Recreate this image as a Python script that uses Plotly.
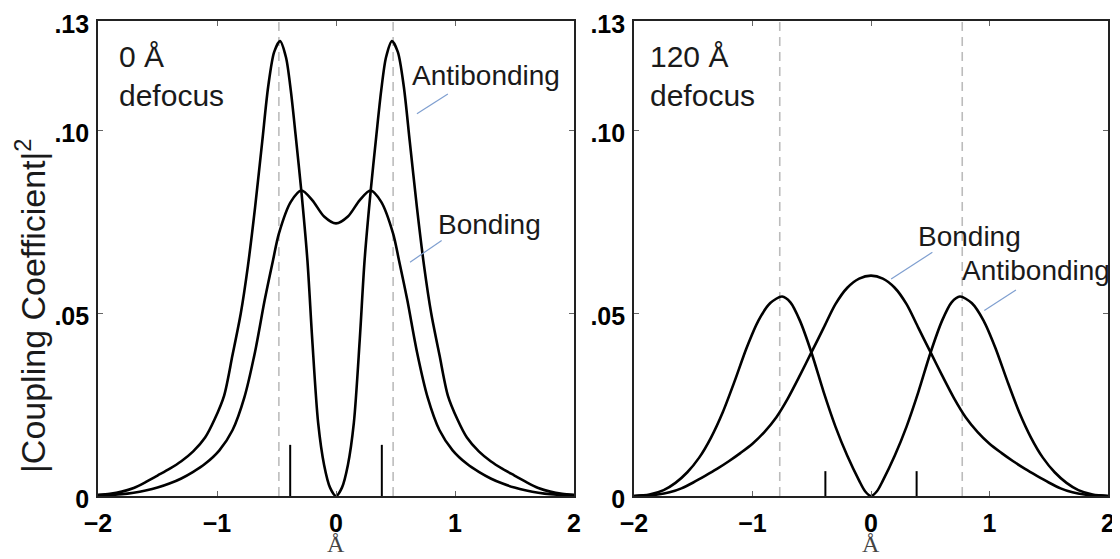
import plotly.graph_objects as go

# ---------------- data ----------------
# Left panel: 0 Å defocus
x_anti0 = [-2.0, -1.9, -1.8, -1.7, -1.6, -1.5, -1.4, -1.3, -1.2, -1.1, -1.02, -0.94, -0.87, -0.8, -0.74, -0.68,
           -0.62, -0.57, -0.52, -0.47, -0.42, -0.38, -0.34, -0.29, -0.24, -0.2, -0.15, -0.1, -0.05, 0.0,
           0.05, 0.1, 0.15, 0.2, 0.24, 0.29, 0.34, 0.38, 0.42, 0.47, 0.52, 0.57, 0.62, 0.68, 0.74, 0.8,
           0.87, 0.94, 1.02, 1.1, 1.2, 1.3, 1.4, 1.5, 1.6, 1.7, 1.8, 1.9, 2.0]
y_anti0 = [0.0003, 0.0006, 0.0012, 0.0022, 0.0038, 0.0056, 0.0074, 0.0095, 0.0122, 0.016, 0.021, 0.0275, 0.0385,
           0.050, 0.063, 0.079, 0.097, 0.112, 0.1215, 0.1245, 0.120, 0.111, 0.099, 0.083, 0.0644, 0.043, 0.020,
           0.0085, 0.0023, 0.0,
           0.0023, 0.0085, 0.020, 0.043, 0.0644, 0.083, 0.099, 0.111, 0.120, 0.1245, 0.1215, 0.112, 0.097,
           0.079, 0.063, 0.050, 0.0385, 0.0275, 0.021, 0.016, 0.0122, 0.0095, 0.0074, 0.0056, 0.0038, 0.0022,
           0.0012, 0.0006, 0.0003]

x_bond0 = [-2.0, -1.8, -1.7, -1.6, -1.5, -1.4, -1.3, -1.2, -1.1, -0.98, -0.87, -0.77, -0.68, -0.6, -0.53, -0.48,
           -0.38, -0.29, -0.2, -0.1, 0.0, 0.1, 0.2, 0.29, 0.38, 0.48, 0.53, 0.6, 0.68, 0.77, 0.87, 0.98, 1.1,
           1.2, 1.3, 1.4, 1.5, 1.6, 1.7, 1.8, 2.0]
y_bond0 = [0.0002, 0.0005, 0.0009, 0.0015, 0.0023, 0.0034, 0.0048, 0.0066, 0.0088, 0.0125, 0.018, 0.027, 0.0395,
           0.0535, 0.0644, 0.0718, 0.0805, 0.0836, 0.081, 0.0765, 0.0746, 0.0765, 0.081, 0.0836, 0.0805, 0.0718,
           0.0644, 0.0535, 0.0395, 0.027, 0.018, 0.0125, 0.0088, 0.0066, 0.0048, 0.0034, 0.0023, 0.0015,
           0.0009, 0.0005, 0.0002]

# Right panel: 120 Å defocus
x_anti120 = [-2.0, -1.87, -1.75, -1.65, -1.55, -1.45, -1.35, -1.25, -1.15, -1.05, -0.95, -0.85, -0.75, -0.68,
             -0.6, -0.5, -0.4, -0.3, -0.2, -0.1, -0.05, 0.0,
             0.05, 0.1, 0.2, 0.3, 0.4, 0.5, 0.6, 0.68, 0.75, 0.85, 0.95, 1.05, 1.15, 1.25, 1.35, 1.45, 1.55,
             1.65, 1.75, 1.87, 2.0]
y_anti120 = [0.0, 0.0004, 0.0016, 0.0036, 0.0065, 0.0105, 0.016, 0.023, 0.0315, 0.0405, 0.048, 0.0528, 0.0546,
             0.053, 0.048, 0.039, 0.0285, 0.019, 0.011, 0.0042, 0.0013, 0.0,
             0.0013, 0.0042, 0.011, 0.019, 0.0285, 0.039, 0.048, 0.053, 0.0546, 0.0528, 0.048, 0.0405, 0.0315,
             0.023, 0.016, 0.0105, 0.0065, 0.0036, 0.0016, 0.0004, 0.0]

x_bond120 = [-2.0, -1.8, -1.7, -1.6, -1.5, -1.4, -1.3, -1.2, -1.1, -1.0, -0.9, -0.8, -0.7, -0.6, -0.5, -0.4,
             -0.3, -0.2, -0.1, 0.0, 0.1, 0.2, 0.3, 0.4, 0.5, 0.6, 0.7, 0.8, 0.9, 1.0, 1.1, 1.2, 1.3, 1.4, 1.5,
             1.6, 1.7, 1.8, 2.0]
y_bond120 = [0.0, 0.0004, 0.001, 0.0021, 0.0037, 0.0055, 0.0074, 0.0095, 0.0118, 0.0143, 0.0175, 0.0215,
             0.0268, 0.033, 0.0395, 0.046, 0.0525, 0.057, 0.0595, 0.0603, 0.0595, 0.057, 0.0525, 0.046, 0.0395,
             0.033, 0.0268, 0.0215, 0.0175, 0.0143, 0.0118, 0.0095, 0.0074, 0.0055, 0.0037, 0.0021, 0.001,
             0.0004, 0.0]

# reference markers
dash_x0 = [-0.48, 0.48]
dash_x120 = [-0.77, 0.77]
stick_x = [-0.385, 0.385]
stick_h0 = 0.014
stick_h120 = 0.0068

x_ticks = [-2, -1, 0, 1, 2]
y_ticks = [0, 0.05, 0.10, 0.12999]
y_ticktext = ["0", ".05", ".10", ".13"]

# labels (text, x, y, leader x0, y0, x1, y1)
labels_left = [("Antibonding", 1.26, 0.115, 0.94, 0.110, 0.68, 0.1046),
               ("Bonding", 1.29, 0.0743, 0.888, 0.0699, 0.622, 0.064)]
labels_right = [("Bonding", 0.83, 0.071, 0.518, 0.0667, 0.17, 0.0594),
                ("Antibonding", 1.39, 0.0617, 1.223, 0.0564, 0.956, 0.0508)]

# ---------------- figure ----------------
fig = go.Figure()
LINE = dict(color="black", width=2.6, shape="spline", smoothing=0.8)
DASH = dict(color="#bcbcbc", width=1.6, dash="9px,6px")
STICK = dict(color="black", width=2)

for xa, ya, dx, sh, curves in [
    ("x", "y", dash_x0, stick_h0, [(x_anti0, y_anti0), (x_bond0, y_bond0)]),
    ("x2", "y2", dash_x120, stick_h120, [(x_anti120, y_anti120), (x_bond120, y_bond120)]),
]:
    for d in dx:
        fig.add_trace(go.Scatter(x=[d, d], y=[0, 0.13], mode="lines", line=DASH,
                                 xaxis=xa, yaxis=ya, showlegend=False, hoverinfo="skip"))
    for s in stick_x:
        fig.add_trace(go.Scatter(x=[s, s], y=[0, sh], mode="lines", line=STICK,
                                 xaxis=xa, yaxis=ya, showlegend=False, hoverinfo="skip"))
    for cx, cy in curves:
        fig.add_trace(go.Scatter(x=cx, y=cy, mode="lines", line=LINE,
                                 xaxis=xa, yaxis=ya, showlegend=False))

TICKFONT = dict(family="Liberation Sans, Arial, sans-serif", size=25, color="black", weight="bold")
xcommon = dict(range=[-2, 2], tickvals=x_ticks, ticks="inside", ticklen=5, tickcolor="#666",
               showline=True, mirror="ticks", linecolor="#222", linewidth=1.6, automargin=False,
               ticklabeloverflow="allow", ticklabelstandoff=4, showgrid=False, zeroline=False,
               tickfont=TICKFONT)
ycommon = dict(range=[0, 0.13], tickvals=y_ticks, ticktext=y_ticktext, ticks="inside", ticklen=5,
               tickcolor="#666", showline=True, mirror="ticks", linecolor="#222", linewidth=1.6,
               automargin=False, ticklabeloverflow="allow", ticklabelshift=3, ticklabelstandoff=2,
               showgrid=False, zeroline=False, tickfont=TICKFONT)

# the page puts the figure 8px in from the top-left corner
OFF = 8
W, H = 1120 - OFF, 559 - OFF


def px(p):
    return (p - OFF) / W


def py(p):
    return 1 - (p - OFF) / H


fig.update_layout(
    width=W, height=H, margin=dict(l=0, r=0, t=0, b=0, pad=0),
    paper_bgcolor="white", plot_bgcolor="white",
    xaxis=dict(domain=[px(98), px(574)], anchor="y", **xcommon),
    yaxis=dict(domain=[py(496), py(21)], anchor="x", **ycommon),
    xaxis2=dict(domain=[px(634), px(1108)], anchor="y2", **xcommon),
    yaxis2=dict(domain=[py(496), py(21)], anchor="x2", **ycommon),
)

LABFONT = dict(family="Liberation Sans, Arial, sans-serif", size=28, color="#1a1a1a")
ann = []
shapes = []
for xa, ya, labs in [("x", "y", labels_left), ("x2", "y2", labels_right)]:
    for t, tx, ty, lx0, ly0, lx1, ly1 in labs:
        ann.append(dict(text=t, x=tx, y=ty, xref=xa, yref=ya, showarrow=False,
                        font=LABFONT, xanchor="center", yanchor="middle"))
        shapes.append(dict(type="line", xref=xa, yref=ya, x0=lx0, y0=ly0, x1=lx1, y1=ly1,
                           line=dict(color="#7f9fd0", width=1.2)))

DEFONT = dict(family="Liberation Sans, Arial, sans-serif", size=30, color="#1a1a1a")
ann.append(dict(text="0 Å<br>defocus", x=px(117), y=py(38), xref="paper", yref="paper",
                showarrow=False, xanchor="left", yanchor="top", align="left", font=DEFONT))
ann.append(dict(text="120 Å<br>defocus", x=px(648), y=py(38), xref="paper", yref="paper",
                showarrow=False, xanchor="left", yanchor="top", align="left", font=DEFONT))

ann.append(dict(text="|Coupling Coefficient|<sup>2</sup>", x=px(30), y=py(306), xref="paper",
                yref="paper", showarrow=False, textangle=-90, xanchor="center", yanchor="middle",
                font=dict(family="Liberation Sans, Arial, sans-serif", size=34, color="#1a1a1a")))
for xa in ["x", "x2"]:
    ann.append(dict(text="Å", x=0, y=py(544), xref=xa, yref="paper", showarrow=False,
                    xanchor="center", yanchor="middle",
                    font=dict(family="Liberation Serif, Times New Roman, serif", size=24, color="#444")))

fig.update_layout(annotations=ann, shapes=shapes)
fig.write_html("out.html")
